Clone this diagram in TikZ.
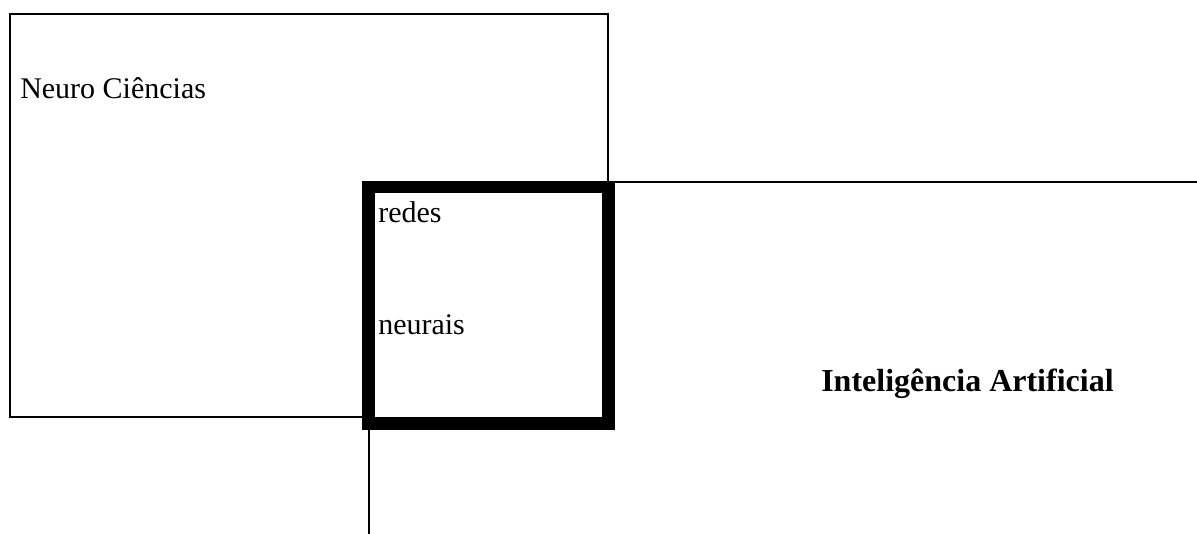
\documentclass[tikz,border=0pt]{standalone}
\usepackage{fontspec}
\setmainfont{Liberation Serif}
\usetikzlibrary{positioning}
\tikzset{
  areabox/.style={draw, line width=1.5pt},
  corebox/.style={draw, line width=9.4pt, fill=white},
  lbl/.style={font=\fontsize{22.5}{27}\selectfont, inner sep=0pt, anchor=base west},
  biglbl/.style={lbl, font=\fontsize{24}{29}\selectfont\bfseries}
}
\begin{document}
\begin{tikzpicture}[x=0.75pt, y=-0.75pt]
\useasboundingbox (0,0) rectangle (1197,534);
% the two fields
\draw[areabox] (369,534) -- (369,182) -- (1197,182);
\draw[areabox] (10,14) rectangle (608,417);
% where they meet
\draw[corebox] (368.5,187) rectangle (608.5,423.5);
\node[lbl] (neuro) at (20,99) {Neuro Ciências};
\node[lbl] (redes) at (378,223) {redes};
\node[lbl] (neurais) at (378,335) {neurais};
\node[biglbl] (ia) at (821,392) {Inteligência Artificial};
\end{tikzpicture}
\end{document}
